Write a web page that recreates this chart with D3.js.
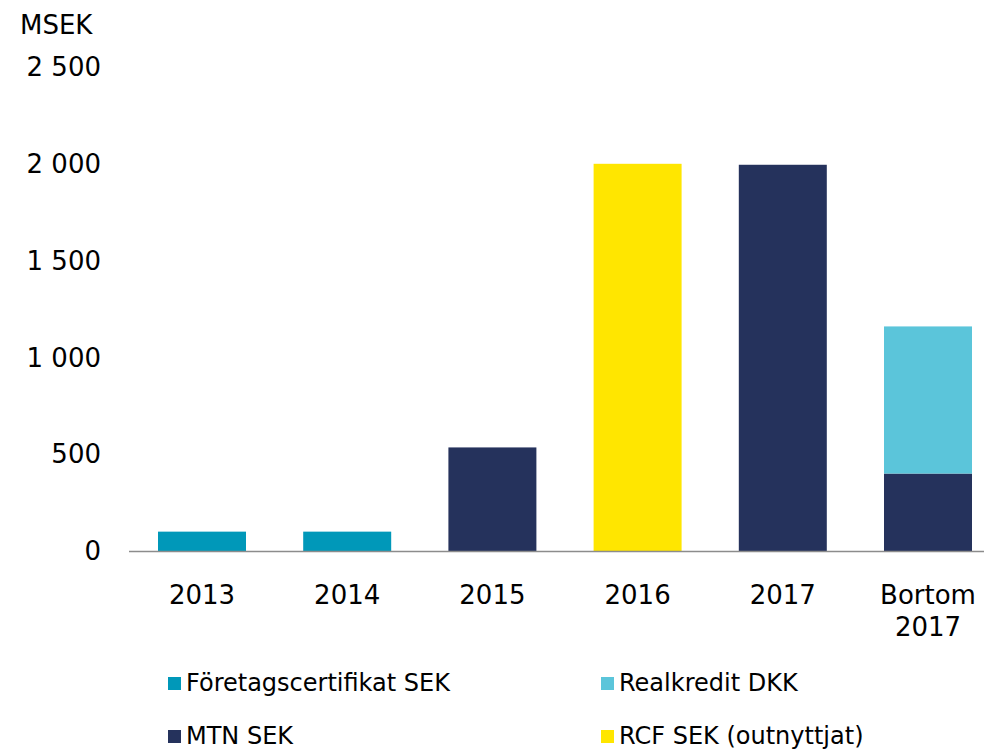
<!DOCTYPE html>
<html>
<head>
<meta charset="utf-8">
<script src="https://cdn.jsdelivr.net/npm/d3@7"></script>
<style>
    body { margin: 0; background: #fff; }
    text { font-family: Verdana, "DejaVu Sans", sans-serif; fill: #000; }
</style>
</head>
<body>
<div id="chart"></div>
<script>
// Categories (years) and stacked series values, MSEK
const years = ["2013", "2014", "2015", "2016", "2017", "Bortom 2017"];
const foretagscertifikat = [100, 100, 0, 0, 0, 0];
const mtn = [0, 0, 535, 0, 1995, 400];
const realkredit = [0, 0, 0, 0, 0, 760];
const rcf = [0, 0, 0, 2000, 0, 0];
const yTicks = [0, 500, 1000, 1500, 2000, 2500];

const seriesNames = ["Företagscertifikat SEK", "MTN SEK", "Realkredit DKK", "RCF SEK (outnyttjat)"];
const seriesValues = [foretagscertifikat, mtn, realkredit, rcf];
const colors = ["#0098b9", "#25325c", "#5bc5da", "#ffe600"];

const width = 984, height = 750;

const svg = d3.select("#chart")
    .append("svg")
    .attr("width", width)
    .attr("height", height);

// Build table for stacking
const keys = ["foretag", "mtn", "realkredit", "rcf"];
const table = years.map((y, i) => {
    const row = { year: y };
    keys.forEach((k, j) => row[k] = seriesValues[j][i]);
    return row;
});

const x = d3.scaleBand()
    .domain(years)
    .range([129.4, 1000.6])
    .paddingInner(0.394)
    .paddingOuter(0.197);

const y = d3.scaleLinear()
    .domain([0, 2500])
    .range([551, 67]);

const stack = d3.stack().keys(keys);
const stacked = stack(table);

// Bars
svg.append("g")
    .selectAll("g")
    .data(stacked)
    .join("g")
    .attr("fill", (d, i) => colors[i])
    .selectAll("rect")
    .data(d => d)
    .join("rect")
    .attr("x", d => x(d.data.year))
    .attr("width", x.bandwidth())
    .attr("y", d => y(d[1]))
    .attr("height", d => y(d[0]) - y(d[1]));

// X axis line
svg.append("line")
    .attr("x1", 129).attr("x2", 1001)
    .attr("y1", y(0) + 0.5).attr("y2", y(0) + 0.5)
    .attr("stroke", "#8c8c8c")
    .attr("stroke-width", 1.3);

// Category labels (Bortom 2017 on two lines)
const xLabels = svg.append("g");
years.forEach(yr => {
    const parts = yr.split(" ");
    const t = xLabels.append("text")
        .attr("x", x(yr) + x.bandwidth() / 2)
        .attr("y", 604)
        .attr("text-anchor", "middle")
        .attr("font-size", 26);
    parts.forEach((p, i) => {
        t.append("tspan")
            .attr("x", x(yr) + x.bandwidth() / 2)
            .attr("dy", i === 0 ? 0 : 32)
            .text(p);
    });
});

// Y tick labels
const fmt = v => d3.format(",")(v).replace(/,/g, " ");
svg.append("g")
    .selectAll("text")
    .data(yTicks)
    .join("text")
    .attr("x", 101)
    .attr("y", d => y(d))
    .attr("dy", "0.35em")
    .attr("text-anchor", "end")
    .attr("font-size", 26)
    .text(d => fmt(d));

// Unit label
svg.append("text")
    .attr("x", 20)
    .attr("y", 34)
    .attr("font-size", 26)
    .text("MSEK");

// Legend
const legendPos = [
    { x: 168, y: 691 },
    { x: 168, y: 744 },
    { x: 601, y: 691 },
    { x: 601, y: 744 }
];
const legend = svg.append("g")
    .selectAll("g")
    .data(seriesNames)
    .join("g")
    .attr("transform", (d, i) => `translate(${legendPos[i].x},${legendPos[i].y})`);

legend.append("rect")
    .attr("x", 0)
    .attr("y", -14)
    .attr("width", 13)
    .attr("height", 13)
    .attr("fill", (d, i) => colors[i]);

legend.append("text")
    .attr("x", 18)
    .attr("y", 0)
    .attr("font-size", 24)
    .text(d => d);
</script>
</body>
</html>
